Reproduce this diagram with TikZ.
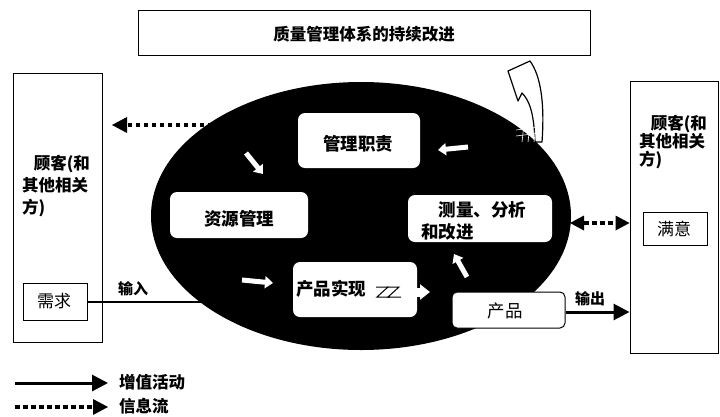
\documentclass[tikz,border=0pt]{standalone}
\usepackage{fontspec}
\setmainfont{Noto Sans CJK SC}
\usetikzlibrary{arrows.meta,shapes.geometric}
\tikzset{
  plainbox/.style={draw=black, line width=1pt, fill=white, inner sep=0pt},
  whitebox/.style={fill=white, rounded corners=7pt, inner sep=0pt},
  lbl/.style={font=\fontsize{15}{17}\selectfont\bfseries, inner sep=0pt},
  boxtxt/.style={font=\fontsize{17.5}{20}\selectfont\bfseries, inner sep=0pt},
  solidarrow/.style={line width=3pt, -{Triangle[length=16pt,width=16pt]}},
  infoline/.style={line width=3.5pt, dash pattern=on 4.5pt off 3.5pt},
  flowarrow/.style={white, line width=5pt, -{Triangle[length=8pt,width=12pt]}}
}
\begin{document}
\begin{tikzpicture}[x=1pt,y=-1pt]
\useasboundingbox (0,0) rectangle (720,416);
\fill[white] (0,0) rectangle (720,416);
% top box
\node[plainbox, minimum width=452pt, minimum height=45pt] (top) at (364,32.5) {};
\node[boxtxt, font=\fontsize{16.5}{19}\selectfont\bfseries] (toptxt) at (364,34) {质量管理体系的持续改进};
% curved improvement arrow
\draw[fill=white, line width=1.2pt, line join=round] (530,61) coordinate (ctip) -- (508,71) -- (518,101) -- (522,93)
  .. controls (529,100) and (534,112) .. (535,142) -- (542,142)
  .. controls (545,100) and (540,75) .. (ctip) -- cycle;
% customer boxes
\node[plainbox, minimum width=89pt, minimum height=269pt] (lcust) at (57.5,207.5) {};
\node[lbl, font=\fontsize{16.5}{22}\selectfont\bfseries, align=left, anchor=west] (lcusttxt) at (22,186) {\hspace{0.7em}顾客(和\\其他相关\\方)};
\node[plainbox, minimum width=64pt, minimum height=37pt] (need) at (55,301.5) {};
\node[lbl, font=\fontsize{17}{19}\selectfont] (needtxt) at (54,301.5) {需求};
\node[plainbox, minimum width=88pt, minimum height=272pt] (rcust) at (674,217) {};
\node[lbl, font=\fontsize{16.5}{18}\selectfont\bfseries, align=left, anchor=west] (rcusttxt) at (639,142) {\hspace{0.7em}顾客(和\\其他相关\\方)};
\node[plainbox, minimum width=64pt, minimum height=33pt] (sat) at (675,228.5) {};
\node[lbl, font=\fontsize{17}{19}\selectfont] (sattxt) at (674,229) {满意};
% ellipse
\node[ellipse, fill=black, minimum width=420pt, minimum height=268pt, inner sep=0pt] (ell) at (361,216) {};
% hatch where the improvement arrow leaves the ellipse
\foreach \hx in {524,530,536}{\draw[white, line width=0.6pt] (\hx,124) -- (\hx-2,142);}
\foreach \hy in {130,136}{\draw[white, line width=0.6pt] (516,\hy) -- (540,\hy-3);}
% inner boxes
\node[whitebox, minimum width=122pt, minimum height=55pt] (mgmt) at (359,140.5) {};
\node[boxtxt] (mgmttxt) at (358,144) {管理职责};
\node[whitebox, minimum width=138pt, minimum height=46pt] (res) at (239,215) {};
\node[boxtxt] (restxt) at (239,219) {资源管理};
\node[whitebox, minimum width=144pt, minimum height=47pt] (meas) at (480,218.5) {};
\node[boxtxt, align=left, anchor=west, font=\fontsize{17.5}{22}\selectfont\bfseries] (meastxt) at (421,221) {\hspace{1em}测量、分析\\和改进};
\node[whitebox, minimum width=124pt, minimum height=55pt] (real) at (355,289.5) {};
\node[boxtxt, anchor=west] (realtxt) at (296,289) {产品实现};
% flow arrows inside ellipse
\draw[flowarrow] (246,153) -- (263,174);
\draw[flowarrow] (468,147) -- (438,150);
\draw[flowarrow] (467,277) -- (454,254);
\draw[flowarrow] (242,280) -- (273,283);
% product realisation to product arrow
\draw[white, line width=9pt, -{Triangle[length=10pt,width=15pt]}] (372,292) -- (430,292);
\draw[black, line width=1pt] (376,287) -- (388,287) -- (377,297) -- (390,297);
\draw[black, line width=1pt] (387,287) -- (399,287) -- (388,297) -- (401,297);
% product box
\node[plainbox, rounded corners=5pt, minimum width=113pt, minimum height=36pt] (prod) at (508.5,310) {};
\node[boxtxt, font=\fontsize{17.5}{20}\selectfont] (prodtxt) at (505,311) {产品};
% input line
\coordinate (inend) at (202,302);
\draw[line width=2.6pt] (need.east |- inend) -- (inend);
\node[lbl] (intxt) at (133,289) {输入};
% output arrow
\draw[solidarrow] (prod.east |- 0,312) -- (rcust.west |- 0,312);
\node[lbl] (outtxt) at (590,299) {输出};
% information flows
\coordinate (tlstart) at (212,125);
\coordinate (tlend) at (112,125);
\draw[infoline] (tlstart) -- ([xshift=12pt]tlend);
\fill (tlend) -- ++(15,-8) -- ++(0,16) -- cycle;
\coordinate (rstart) at (572,223);
\draw[infoline] ([xshift=12pt]rstart) -- ([xshift=-12pt]rcust.west |- rstart);
\fill ([xshift=-2pt]rstart) -- ++(14,-7.5) -- ++(0,15) -- cycle;
\fill (rcust.west |- rstart) -- ++(-14,-7.5) -- ++(0,15) -- cycle;
% legend
\coordinate (lg1a) at (15,383);
\coordinate (lg1b) at (108,383);
\draw[solidarrow] (lg1a) -- (lg1b);
\node[lbl, anchor=west, font=\fontsize{16.5}{19}\selectfont\bfseries] (lg1txt) at (119,382) {增值活动};
\coordinate (lg2a) at (15,407);
\coordinate (lg2b) at (108,407);
\draw[infoline] (lg2a) -- ([xshift=-14pt]lg2b);
\fill (lg2b) -- ++(-15,-8) -- ++(0,16) -- cycle;
\node[lbl, anchor=west, font=\fontsize{16.5}{19}\selectfont\bfseries] (lg2txt) at (119,406) {信息流};
\end{tikzpicture}
\end{document}
